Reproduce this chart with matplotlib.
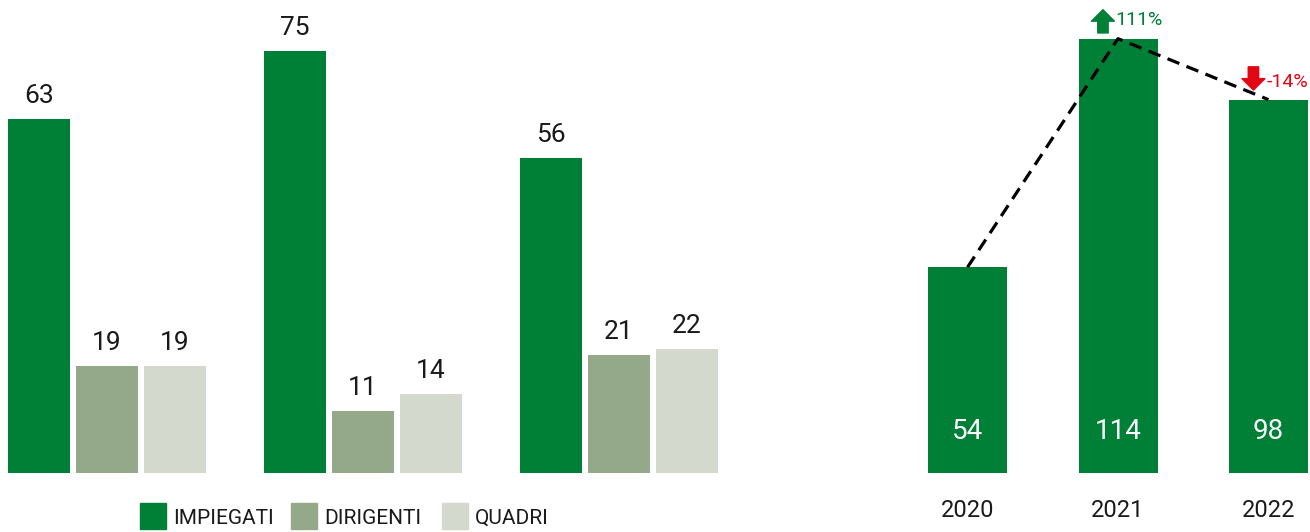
import matplotlib
matplotlib.use('Agg')
import matplotlib.pyplot as plt
import matplotlib.patches as mpatches
import numpy as np

plt.rcParams['font.family'] = ['Roboto', 'DejaVu Sans']

# left chart: three groups, no category labels
impiegati = [63, 75, 56]
dirigenti = [19, 11, 21]
quadri = [19, 14, 22]
series_names = ['IMPIEGATI', 'DIRIGENTI', 'QUADRI']

# right chart: totals per year
years = ['2020', '2021', '2022']
totals = [54, 114, 98]

GREEN = '#007F36'
SAGE = '#93A98A'
PALE = '#D4D9CE'
RED = '#E30613'
TXT = '#1a1a1a'

W, H = 1310, 532
fig = plt.figure(figsize=(W / 100, H / 100), dpi=100)

base = (H - 473) / H
# left axes: x px 0..740
ax = fig.add_axes([0, base, 740 / W, 473 / H])
ax.axis('off')
ax.set_xlim(-107 / 256, (740 - 107) / 256)
ax.set_ylim(0, 473 / 5.625)

x = np.arange(len(impiegati))
bw = 62 / 256
off = 68 / 256
colors = [GREEN, SAGE, PALE]
for vals, dx, col in zip([impiegati, dirigenti, quadri], [-off, 0, off], colors):
    bars = ax.bar(x + dx, vals, width=bw, color=col)
    for b, v in zip(bars, vals):
        ax.annotate(str(v), (b.get_x() + b.get_width() / 2, v), xytext=(0, 11.5),
                    textcoords='offset points', ha='center', va='baseline',
                    fontsize=19, color=TXT)

# legend drawn by hand so the swatches sit where the original has them
for i, (c, n) in enumerate(zip(colors, series_names)):
    x0 = 140 + 151 * i
    fig.add_artist(mpatches.Rectangle((x0 / W, 1 - 529 / H), 26 / W, 26 / H,
                                      transform=fig.transFigure, color=c))
    fig.text((x0 + 33) / W, 1 - 518 / H, n, ha='left', va='center',
             fontsize=15, color=TXT)

# right axes: x px 890..1310
ax2 = fig.add_axes([890 / W, base, 420 / W, 473 / H])
ax2.axis('off')
ax2.set_xlim(-77.5 / 150.5, (1310 - 967.5) / 150.5)
ax2.set_ylim(0, 473 / 3.81)

xr = np.arange(len(years))
ax2.bar(xr, totals, width=79 / 150.5, color=GREEN)
for xi, v, yr in zip(xr, totals, years):
    ax2.text(xi, 11, str(v), ha='center', va='center', fontsize=20, color='white')
    ax2.annotate(yr, (xi, 0), xytext=(0, -32), textcoords='offset points',
                 ha='center', va='baseline', fontsize=17, color=TXT,
                 annotation_clip=False)

ax2.plot(xr, totals, color='black', lw=2.3, ls=(0, (4, 2.4)))

for i in range(1, len(totals)):
    pct = round((totals[i] - totals[i - 1]) / totals[i - 1] * 100)
    v = totals[i]
    if pct >= 0:
        col = GREEN
        tail, tip = v + 1.5, v + 7.6
        ty = v + 5
    else:
        col = RED
        tail, tip = v + 8.6, v + 2.5
        ty = v + 4.6
    ax2.annotate('', xy=(i - 0.1, tip), xytext=(i - 0.1, tail),
                 arrowprops=dict(arrowstyle='simple,head_length=0.55,head_width=1.1,tail_width=0.5',
                                 color=col, shrinkA=0, shrinkB=0, mutation_scale=15),
                 annotation_clip=False)
    ax2.text(i - 0.015, ty, f'{pct}%', ha='left', va='center', fontsize=14, color=col)

fig.savefig('out.png', dpi=100)
